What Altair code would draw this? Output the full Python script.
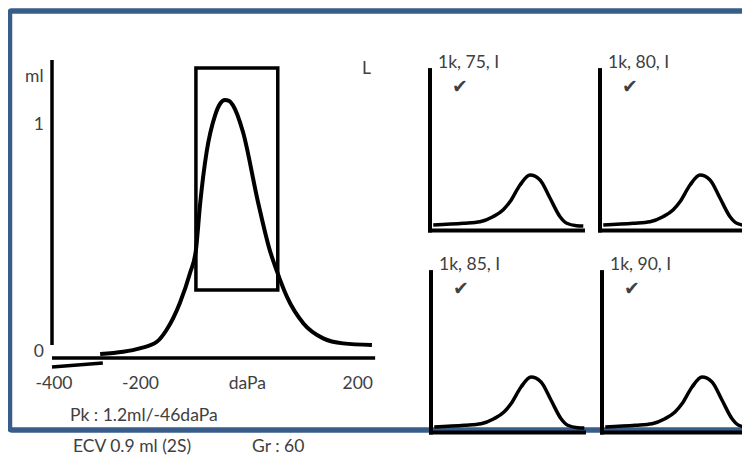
import altair as alt
import pandas as pd

# ---------------- values ----------------
# main tympanogram (pressure in daPa, compliance in ml)
tymp_dapa = [-310, -267, -236, -204, -186, -161, -142, -131, -123, -111, -95, -86,
             -77, -69, -62, -43, -15, 7, 21, 39, 70, 107, 144, 198]
tymp_ml = [-0.009, 0.001, 0.016, 0.045, 0.097, 0.216, 0.348, 0.449, 0.656, 0.881,
           1.044, 1.093, 1.110, 1.106, 1.088, 0.969, 0.661, 0.449, 0.352, 0.244,
           0.126, 0.060, 0.038, 0.031]
x_ticks = [-400, -200, 0, 200]
x_tick_labels = ["-400", "-200", "daPa", "200"]
y_ticks = [0, 1]
y_tick_labels = ["0", "1"]
box_dapa = [-131, 22]
box_ml = [0.273, 1.251]

# acoustic reflex panels (relative time, relative amplitude)
reflex_t = [0.021, 0.215, 0.323, 0.406, 0.471, 0.516, 0.581, 0.645, 0.710, 0.774,
            0.839, 0.882, 0.946, 0.989]
reflex_amp = [0.098, 0.129, 0.157, 0.246, 0.366, 0.514, 0.813, 0.991, 0.902, 0.580,
              0.246, 0.129, 0.086, 0.080]
reflex_labels = ["1k, 75, I", "1k, 80, I", "1k, 85, I", "1k, 90, I"]
reflex_mark = ["\u2714", "\u2714", "\u2714", "\u2714"]

unit_text = "ml"
ear_text = "L"
peak_text = "Pk : 1.2ml/-46daPa"
ecv_text = "ECV 0.9 ml (2S)"
grad_text = "Gr : 60"

# ---------------- layout ----------------
W, H = 734, 451
OX, OY = 8, 8
FONT = "Lato"
FS = 17.5
TXT = "#404040"
FRAME = "#385D8A"


def xdom(px, val, k):
    lo = val - (px - OX) / k
    return [lo, lo + W / k]


def ydom(py, val, k):
    lo = val - (OY + H - py) / k
    return [lo, lo + H / k]


# ---- frame + free annotations (page pixel scale) ----
px_x = alt.Scale(domain=[OX, OX + W], nice=False)
px_y = alt.Scale(domain=[OY, OY + H], nice=False, reverse=True)

frame_df = pd.DataFrame({"x": [9.5], "x2": [800], "y": [11], "y2": [430]})
frame = alt.Chart(frame_df).mark_rect(
    fillOpacity=0, stroke=FRAME, strokeWidth=5.5, cornerRadius=2
).encode(
    x=alt.X("x:Q", scale=px_x, axis=None), x2="x2",
    y=alt.Y("y:Q", scale=px_y, axis=None), y2="y2",
)

notes_df = pd.DataFrame({
    "text": [unit_text, ear_text, peak_text, ecv_text, grad_text],
    "x": [25, 362, 70, 73, 252],
    "y": [82, 74, 421, 452, 452],
})
notes = alt.Chart(notes_df).mark_text(
    align="left", baseline="alphabetic", font=FONT, fontSize=FS, color=TXT
).encode(
    x=alt.X("x:Q", scale=px_x, axis=None),
    y=alt.Y("y:Q", scale=px_y, axis=None),
    text="text:N",
)
page = alt.layer(frame, notes)

# ---- main tympanogram ----
mx = alt.Scale(domain=xdom(52, -400, 0.535), nice=False)
my = alt.Scale(domain=ydom(352, 0, 227), nice=False)

tymp_df = pd.DataFrame({"dapa": tymp_dapa, "ml": tymp_ml})
curve = alt.Chart(tymp_df).mark_line(
    color="black", strokeWidth=4, interpolate="monotone"
).encode(
    x=alt.X("dapa:Q", scale=mx, axis=None),
    y=alt.Y("ml:Q", scale=my, axis=None),
)

axes_df = pd.DataFrame({
    "x": [-400, -400, -400], "x2": [-400, 204, -305],
    "y": [0.031, -0.026, -0.066], "y2": [1.286, -0.026, -0.048],
})
main_axes = alt.Chart(axes_df).mark_rule(color="black", strokeWidth=3.5).encode(
    x=alt.X("x:Q", scale=mx, axis=None), x2="x2",
    y=alt.Y("y:Q", scale=my, axis=None), y2="y2",
)

box_df = pd.DataFrame({"x": [box_dapa[0]], "x2": [box_dapa[1]],
                       "y": [box_ml[0]], "y2": [box_ml[1]]})
box = alt.Chart(box_df).mark_rect(
    fillOpacity=0, stroke="black", strokeWidth=3.5
).encode(
    x=alt.X("x:Q", scale=mx, axis=None), x2="x2",
    y=alt.Y("y:Q", scale=my, axis=None), y2="y2",
)

ylab_df = pd.DataFrame({"v": y_ticks, "text": y_tick_labels,
                        "x": [x_ticks[0]] * len(y_ticks)})
ylabels = alt.Chart(ylab_df).mark_text(
    align="right", baseline="middle", dx=-8, font=FONT, fontSize=FS, color=TXT
).encode(
    x=alt.X("x:Q", scale=mx, axis=None),
    y=alt.Y("v:Q", scale=my, axis=None),
    text="text:N",
)

xlab_df = pd.DataFrame({"v": x_ticks, "text": x_tick_labels,
                        "y": [-0.026] * len(x_ticks)})
xlabel_first = alt.Chart(xlab_df.iloc[:1]).mark_text(
    align="center", baseline="alphabetic", dx=2, dy=31, font=FONT, fontSize=FS, color=TXT
).encode(
    x=alt.X("v:Q", scale=mx, axis=None),
    y=alt.Y("y:Q", scale=my, axis=None),
    text="text:N",
)
xlabel_rest = alt.Chart(xlab_df.iloc[1:]).mark_text(
    align="right", baseline="alphabetic", dy=31, font=FONT, fontSize=FS, color=TXT
).encode(
    x=alt.X("v:Q", scale=mx, axis=None),
    y=alt.Y("y:Q", scale=my, axis=None),
    text="text:N",
)
main = alt.layer(main_axes, box, curve, ylabels, xlabel_first, xlabel_rest)

# ---- reflex panels ----
origins = [(430, 230.5), (600, 230.5), (431, 432.5), (602, 432.5)]
KX, KY = 155, 56
panels = []
reflex_df = pd.DataFrame({"t": reflex_t, "amp": reflex_amp})
for i, (ox, oy) in enumerate(origins):
    sx = alt.Scale(domain=xdom(ox, 0, KX), nice=False)
    sy = alt.Scale(domain=ydom(oy, 0, KY), nice=False)
    ax_df = pd.DataFrame({"x": [0, -0.013], "x2": [0, 1.0],
                          "y": [-0.036, 0], "y2": [2.90, 0]})
    pax = alt.Chart(ax_df).mark_rule(color="black", strokeWidth=4).encode(
        x=alt.X("x:Q", scale=sx, axis=None), x2="x2",
        y=alt.Y("y:Q", scale=sy, axis=None), y2="y2",
    )
    pcurve = alt.Chart(reflex_df).mark_line(
        color="black", strokeWidth=3.5, interpolate="monotone"
    ).encode(
        x=alt.X("t:Q", scale=sx, axis=None),
        y=alt.Y("amp:Q", scale=sy, axis=None),
    )
    lab_df = pd.DataFrame({"t": [0.052], "amp": [2.91], "text": [reflex_labels[i]]})
    plab = alt.Chart(lab_df).mark_text(
        align="left", baseline="alphabetic", font=FONT, fontSize=FS, color=TXT
    ).encode(
        x=alt.X("t:Q", scale=sx, axis=None),
        y=alt.Y("amp:Q", scale=sy, axis=None),
        text="text:N",
    )
    chk_df = pd.DataFrame({"t": [0.194], "amp": [2.56], "text": [reflex_mark[i]]})
    pchk = alt.Chart(chk_df).mark_text(
        align="center", baseline="middle", font="DejaVu Sans", fontSize=19, color=TXT
    ).encode(
        x=alt.X("t:Q", scale=sx, axis=None),
        y=alt.Y("amp:Q", scale=sy, axis=None),
        text="text:N",
    )
    panels.append(alt.layer(pax, pcurve, plab, pchk))

chart = alt.layer(page, main, *panels).resolve_scale(
    x="independent", y="independent"
).properties(
    width=W, height=H, padding=0, autosize="none"
).configure_view(strokeWidth=0)

chart.save("out.html", embed_options={"renderer": "svg", "actions": False})
